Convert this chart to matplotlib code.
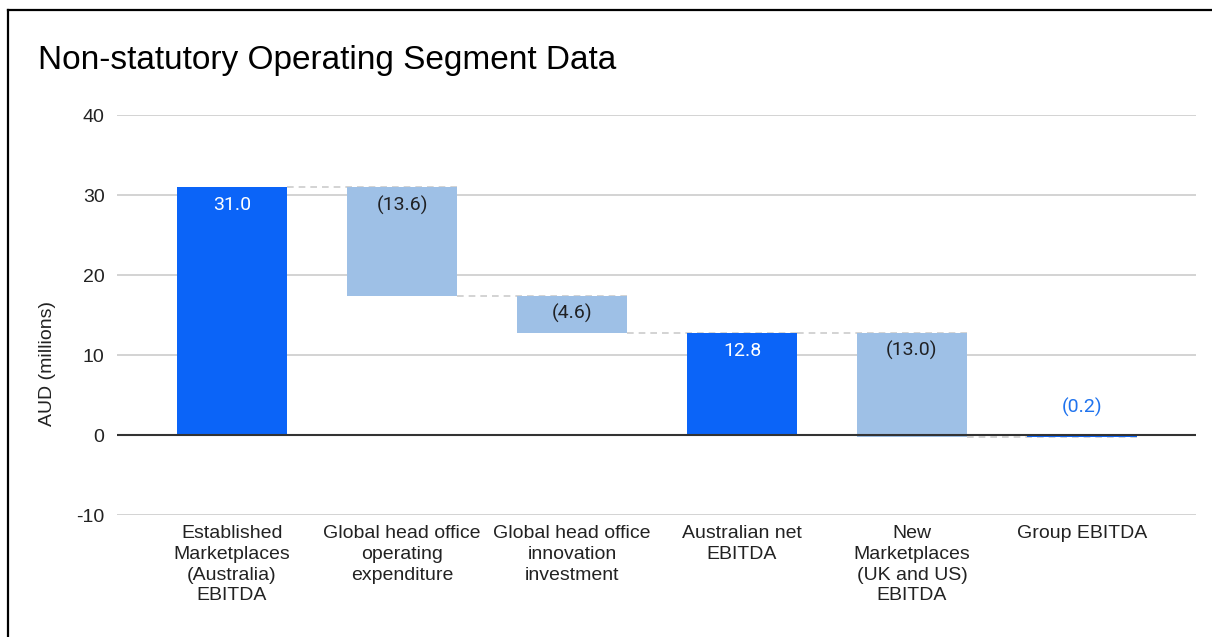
import matplotlib
matplotlib.use("Agg")
import matplotlib.pyplot as plt
from matplotlib.lines import Line2D

title = "Non-statutory Operating Segment Data"
ylabel = "AUD (millions)"
categories = [
    "Established\nMarketplaces\n(Australia)\nEBITDA",
    "Global head office\noperating\nexpenditure",
    "Global head office\ninnovation\ninvestment",
    "Australian net\nEBITDA",
    "New\nMarketplaces\n(UK and US)\nEBITDA",
    "Group EBITDA",
]
values = [31.0, -13.6, -4.6, 12.8, -13.0, -0.2]
is_total = [True, False, False, True, False, True]
yticks = [-10, 0, 10, 20, 30, 40]

total_color = "#0b64f8"
delta_color = "#9ec0e6"
grid_color = "#cccccc"

W, H, DPI = 1212, 637, 100
fig = plt.figure(figsize=(W / DPI, H / DPI), dpi=DPI)
fig.patch.set_facecolor("white")

left_px, right_px, top_px, bot_px = 117, 1196, 115, 515
ax = fig.add_axes([left_px / W, 1 - bot_px / H, (right_px - left_px) / W, (bot_px - top_px) / H])

# compute waterfall geometry from data
bottoms, heights, levels = [], [], []
running = 0.0
for v, t in zip(values, is_total):
    if t:
        bottoms.append(0.0)
        heights.append(v)
        running = v
    else:
        bottoms.append(running)
        heights.append(v)
        running += v
    levels.append(running)

x = list(range(len(categories)))
width = 0.647
colors = [total_color if t else delta_color for t in is_total]
ax.bar(x, heights, bottom=bottoms, width=width, color=colors, zorder=2, linewidth=0)

# connectors
for i in range(len(x) - 1):
    ax.plot([x[i] + width / 2, x[i + 1] + width / 2], [levels[i], levels[i]],
            color=grid_color, lw=1.2, ls=(0, (4, 3)), zorder=1.5)

# labels
for i, (v, t, b, h) in enumerate(zip(values, is_total, bottoms, heights)):
    txt = f"{v:.1f}" if v >= 0 else f"({abs(v):.1f})"
    top = max(b, b + h)
    if abs(v) < 2:
        ax.annotate(txt, (x[i], top), xytext=(0, 20), textcoords="offset points",
                    ha="center", va="center", fontsize=14, family="Roboto",
                    color="#1f73ee", zorder=5)
    else:
        ax.annotate(txt, (x[i], top), xytext=(0, -13), textcoords="offset points",
                    ha="center", va="center", fontsize=14, family="Roboto",
                    color="white" if t else "#202124", zorder=5)

ax.set_xlim(-0.6765, 5.6706)
ax.set_ylim(-10, 40)
ax.set_yticks(yticks)
ax.set_yticklabels([str(t) for t in yticks], family="Liberation Sans", fontsize=14, color="#222222")
ax.set_xticks(x)
ax.set_xticklabels(categories, family="Liberation Sans", fontsize=14, color="#222222",
                   linespacing=1.3, va="top")
ax.tick_params(axis="both", length=0)
ax.tick_params(axis="y", pad=9)
ax.tick_params(axis="x", pad=7)
ax.yaxis.grid(True, color=grid_color, lw=1.2, zorder=0)
ax.set_axisbelow(True)
for s in ax.spines.values():
    s.set_visible(False)
ax.axhline(0, color="#333333", lw=1.5, zorder=4)

fig.text(38 / W, 1 - 60 / H, title, family="Liberation Sans", fontsize=24,
         ha="left", va="center", color="#000000")
fig.text(47 / W, 1 - 363 / H, ylabel, family="Liberation Sans", fontsize=14,
         rotation=90, ha="center", va="center", color="#222222")

# screenshot border (top and left)
fig.add_artist(Line2D([8 / W, 1.0], [1 - 10 / H, 1 - 10 / H], color="black", lw=1.6,
                      transform=fig.transFigure))
fig.add_artist(Line2D([8 / W, 8 / W], [0.0, 1 - 10 / H], color="black", lw=1.6,
                      transform=fig.transFigure))

fig.savefig("out.png", dpi=DPI, facecolor="white")
